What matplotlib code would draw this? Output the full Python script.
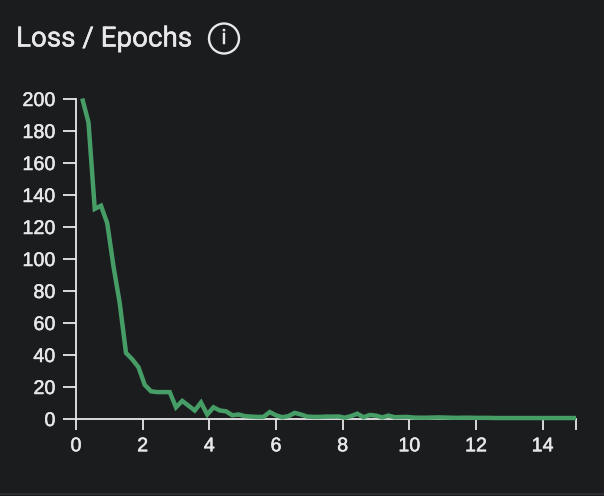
import matplotlib
matplotlib.use("Agg")
import matplotlib.pyplot as plt
import matplotlib.patheffects as pe
from matplotlib.patches import Ellipse
from matplotlib.lines import Line2D

epochs = [0.1875, 0.375, 0.5625, 0.75, 0.9375, 1.125, 1.3125, 1.5, 1.6875, 1.875,
          2.0625, 2.25, 2.4375, 2.625, 2.8125, 3.0, 3.1875, 3.375, 3.5625, 3.75,
          3.9375, 4.125, 4.3125, 4.5, 4.6875, 4.875, 5.0625, 5.25, 5.4375, 5.625,
          5.8125, 6.0, 6.1875, 6.375, 6.5625, 6.75, 6.9375, 7.125, 7.3125, 7.5,
          7.6875, 7.875, 8.0625, 8.25, 8.4375, 8.625, 8.8125, 9.0, 9.1875, 9.375,
          9.5625, 9.75, 9.9375, 10.125, 10.3125, 10.5, 10.6875, 10.875, 11.0625, 11.25,
          11.4375, 11.625, 11.8125, 12.0, 12.1875, 12.375, 12.5625, 12.75, 12.9375, 13.125,
          13.3125, 13.5, 13.6875, 13.875, 14.0625, 14.25, 14.4375, 14.625, 14.8125, 15.0]
loss = [200, 185, 131, 133, 122, 95, 72, 41, 37, 32,
        21, 17, 16.5, 16.5, 16.5, 7, 11, 8, 5, 10,
        2.5, 7, 5, 4.5, 2, 2.5, 1.5, 1.2, 1, 1,
        4, 2, 0.8, 1.5, 3.5, 2.5, 1.2, 1, 1, 1.2,
        1.2, 1.3, 0.5, 1.5, 3, 0.8, 2.2, 1.8, 0.7, 1.8,
        0.8, 0.9, 1.0, 0.6, 0.5, 0.5, 0.6, 0.7, 0.6, 0.5,
        0.4, 0.5, 0.5, 0.4, 0.4, 0.4, 0.3, 0.3, 0.3, 0.3,
        0.3, 0.3, 0.3, 0.3, 0.3, 0.3, 0.3, 0.3, 0.3, 0.3]
x_ticks = [0, 2, 4, 6, 8, 10, 12, 14, 15]
x_labels = ["0", "2", "4", "6", "8", "10", "12", "14", ""]
y_ticks = [0, 20, 40, 60, 80, 100, 120, 140, 160, 180, 200]
title = "Loss / Epochs"

BG = "#1b1c1e"
FG = "#e8e8ea"
GREEN = "#469e66"
W, H = 604, 496
bolder = [pe.withStroke(linewidth=0.35, foreground=FG)]

fig = plt.figure(figsize=(W / 100, H / 100), dpi=100, facecolor=BG)
ax = fig.add_axes([76 / W, 1 - 418.5 / H, 500 / W, 320 / H], facecolor=BG)
ax.plot(epochs, loss, color=GREEN, lw=3.2, solid_joinstyle="miter", solid_capstyle="butt", clip_on=False, zorder=3)
ax.set_xlim(0, 15)
ax.set_ylim(0, 200)
ax.set_xticks(x_ticks, x_labels)
ax.set_yticks(y_ticks)
ax.tick_params(colors=FG, width=1.3, labelsize=14.2)
ax.tick_params(axis="x", length=7.8, pad=5)
ax.tick_params(axis="y", length=9.3, pad=5.5)
for lab in ax.get_xticklabels() + ax.get_yticklabels():
    lab.set_family("Liberation Sans")
    lab.set_path_effects(bolder)
for s in ("top", "right"):
    ax.spines[s].set_visible(False)
for s in ("left", "bottom"):
    ax.spines[s].set_color(FG)
    ax.spines[s].set_linewidth(1.3)

fig.text(16 / W, 1 - 39 / H, title, color=FG, fontsize=20, family="Roboto", va="center", ha="left",
         path_effects=bolder)
fig.add_artist(Ellipse((224 / W, 1 - 38.5 / H), 30 / W, 30 / H, transform=fig.transFigure,
                       fill=False, ec=FG, lw=1.7))
fig.text(224 / W, 1 - 38.5 / H, "i", color=FG, fontsize=15, family="Roboto", va="center", ha="center",
         path_effects=bolder)
fig.add_artist(Line2D([0, 1], [1 - 493.5 / H] * 2, transform=fig.transFigure, color="#2c2d30", lw=1.5))

fig.savefig("out.png", dpi=100, facecolor=BG)
